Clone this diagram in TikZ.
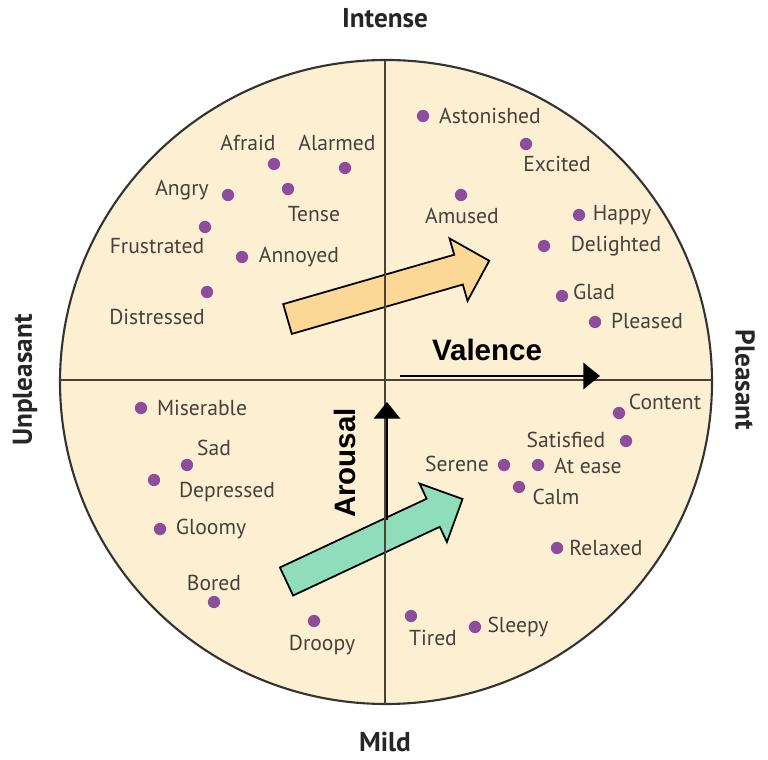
\documentclass[tikz,border=0pt]{standalone}
\usepackage{fontspec}
\setmainfont{PT Sans}
\newfontfamily\arialfont{Liberation Sans}
\usetikzlibrary{arrows.meta}
\definecolor{disc}{HTML}{FCEFD2}
\definecolor{dotpurple}{HTML}{8E4C9C}
\definecolor{wordgrey}{HTML}{46413A}
\definecolor{axisbrown}{HTML}{4A4334}
\definecolor{warmarrow}{HTML}{FBD896}
\definecolor{calmarrow}{HTML}{8FDDBA}
\tikzset{
  dot/.style={circle,fill=dotpurple,inner sep=0pt,minimum size=7pt},
  word/.style={text=wordgrey,font=\fontsize{12.3}{14}\selectfont,inner sep=0pt},
  pole/.style={text=black!85,font=\bfseries\fontsize{15.5}{17}\selectfont,inner sep=0pt},
  dimword/.style={font=\arialfont\bfseries\fontsize{16.8}{19}\selectfont,inner sep=0pt},
  axisline/.style={draw=axisbrown,line width=1.1pt},
  dimarrow/.style={line width=1.2pt,-{Triangle[length=9.5pt,width=15pt]}},
  blockarrow/.style={draw=black,line width=1pt,line join=miter}
}
\begin{document}
\begin{tikzpicture}[x=0.02cm,y=-0.02cm]
\useasboundingbox[fill=white] (0,0) rectangle (768,760);

%Disc and its four ends
\draw[draw=black!80,line width=1.2pt,fill=disc] (386,382) ellipse (326 and 322);
\coordinate (west) at (60,380);
\coordinate (east) at (712,380);
\coordinate (north) at (385,61);
\coordinate (south) at (385,704);

%Block arrows
\begin{scope}[shift={(287.5,319)},rotate=16.1]
\draw[blockarrow,fill=warmarrow] (0,-15.5) -- (178,-15.5) -- (178,-32.5) -- (210,0) -- (178,32.5) -- (178,15.5) -- (0,15.5) -- cycle;
\end{scope}
\begin{scope}[shift={(286.5,581.5)},rotate=25.1]
\draw[blockarrow,fill=calmarrow] (0,-15.5) -- (162,-15.5) -- (162,-32.3) -- (194.4,0) -- (162,32.3) -- (162,15.5) -- (0,15.5) -- cycle;
\end{scope}

%Axes
\draw[axisline] (west) -- (east);
\draw[axisline] (north) -- (south);

%Valence and arousal
\coordinate (valstart) at (400,376);
\coordinate (valend) at (600,376);
\draw[dimarrow] (valstart) -- (valend);
\node[dimword] (valence) at (487,350) {Valence};
\coordinate (arostart) at (387,520);
\coordinate (aroend) at (387,402);
\draw[dimarrow] (arostart) -- (aroend);
\node[dimword,rotate=90] (arousal) at (345,463) {Arousal};

%Poles
\node[pole] (intense) at (385,18) {Intense};
\node[pole] (mild) at (385,742) {Mild};
\node[pole,rotate=90] (unpleasant) at (25,380) {Unpleasant};
\node[pole,rotate=-90] (pleasant) at (745,380) {Pleasant};

%Emotions: name/dot x/dot y/text x/text y/text
\foreach \n/\dx/\dy/\lx/\ly/\t in {
  afraid/274/164/248/143/Afraid, alarmed/345/168/337/143/Alarmed,
  angry/228/195/182/190/Angry, tense/288/189/314/214/Tense,
  frustrated/205/227/157/246/Frustrated, annoyed/242/257/299/257/Annoyed,
  distressed/207/292/157/317/Distressed,
  astonished/423/116/490/116/Astonished, excited/526/144/557/164/Excited,
  amused/461/195/462/216/Amused, happy/579/215/622/215/Happy,
  delighted/544/246/616/246/Delighted, glad/562/296/594/292/Glad,
  pleased/595/322/647/321/Pleased,
  content/619/413/665/402/Content, satisfied/626/441/566/440/Satisfied,
  serene/504/465/457/464/Serene, atease/538/465/588/466/At ease,
  calm/519/487/556/497/Calm, relaxed/557/548/606/548/Relaxed,
  tired/411/616/433/638/Tired, sleepy/475/627/518/627/Sleepy,
  miserable/141/408/202/408/Miserable, sad/187/465/214/448/Sad,
  depressed/154/480/227/492/Depressed, gloomy/160/529/211/529/Gloomy,
  bored/214/602/214/583/Bored, droopy/314/621/322/645/Droopy}
{
  \node[dot] (dot\n) at (\dx,\dy) {};
  \node[word] (word\n) at (\lx,\ly) {\t};
}
\end{tikzpicture}
\end{document}
